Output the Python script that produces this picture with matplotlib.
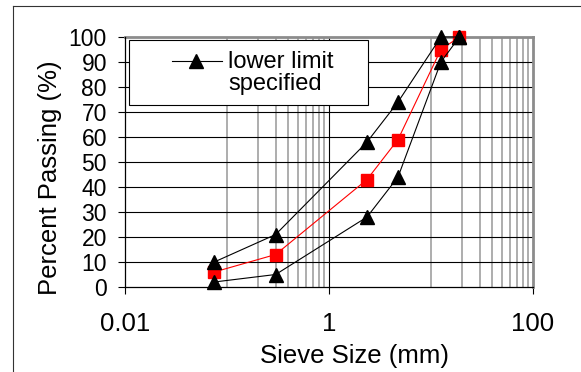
import numpy as np
from matplotlib import pyplot as plt
from matplotlib.patches import Rectangle
from matplotlib.lines import Line2D

plt.rcParams['font.family'] = ['Liberation Sans', 'DejaVu Sans']

sieve_mm = [0.075, 0.3, 2.36, 4.75, 12.5, 19]
upper_limit = [10, 21, 58, 74, 100, 100]
lower_limit = [2, 5, 28, 44, 90, 100]
measured = [6, 13, 43, 59, 95, 100]

yticks = list(range(0, 101, 10))
xticks = [0.01, 1, 100]
xticklabels = ['0.01', '1', '100']
legend_label = 'lower limit\nspecified'

W, H = 581, 372
fig = plt.figure(figsize=(W/100, H/100), dpi=100)

# outer chart border (only top and left are inside the image)
fig.add_artist(Line2D([13/W, 13/W], [0, 1-6/H], color='#333333', lw=0.8))
fig.add_artist(Line2D([13/W, 1], [1-6/H, 1-6/H], color='#333333', lw=0.8))

left, right, top, bottom = 125, 533, 37, 287
ax = fig.add_axes([left/W, 1-bottom/H, (right-left)/W, (bottom-top)/H])
ax.set_xscale('log')
ax.set_xlim(0.01, 100)
ax.set_ylim(0, 100)

for v in list(np.arange(1, 10)*0.1) + list(np.arange(1, 10)*10.0):
    ax.axvline(v, color='#a0a0a0', lw=1.2, zorder=1)
ax.axvline(1, color='black', lw=0.8, zorder=1.5)
for v in yticks[1:-1]:
    ax.axhline(v, color='black', lw=0.8, zorder=1.5)

ax.plot(sieve_mm, upper_limit, color='black', lw=0.8, marker='^', ms=10, zorder=7, clip_on=False)
ax.plot(sieve_mm, lower_limit, color='black', lw=0.8, marker='^', ms=10, zorder=7, clip_on=False)
ax.plot(sieve_mm, measured, color='#ff0000', lw=0.8, marker='s', ms=9, zorder=6.8, clip_on=False)

ax.set_yticks(yticks)
ax.set_xticks(xticks)
ax.set_xticklabels(xticklabels)
ax.xaxis.set_minor_locator(plt.NullLocator())
ax.tick_params(axis='both', length=5, width=0.8, color='black')
ax.tick_params(axis='y', pad=8, labelsize=16.5)
ax.tick_params(axis='x', pad=13, labelsize=18.5)

for s in ['top', 'right']:
    ax.spines[s].set_color('#8c8c8c')
    ax.spines[s].set_linewidth(2)
for s in ['left', 'bottom']:
    ax.spines[s].set_color('black')
    ax.spines[s].set_linewidth(0.9)
    ax.spines[s].set_zorder(4)

fig.text(50/W, 1-178/H, 'Percent Passing (%)', rotation=90, fontsize=18.5,
         ha='center', va='center')
fig.text(355/W, 1-356/H, 'Sieve Size (mm)', fontsize=18.5, ha='center', va='center')

# legend box
def ax_xy(px, py):
    return (px-left)/(right-left), (bottom-py)/(bottom-top)

x0, y0 = ax_xy(129, 105)
x1, y1 = ax_xy(368, 40)
ax.add_patch(Rectangle((x0, y0), x1-x0, y1-y0, transform=ax.transAxes,
                       facecolor='white', edgecolor='black', lw=0.8, zorder=5))
lx0, ly = ax_xy(172, 61)
lx1, _ = ax_xy(222, 61)
mx, _ = ax_xy(196, 61)
ax.add_line(Line2D([lx0, lx1], [ly, ly], transform=ax.transAxes, color='black',
                   lw=0.8, zorder=6))
ax.add_line(Line2D([mx], [ly], transform=ax.transAxes, color='black',
                   marker='^', ms=10, zorder=6))
tx, ty = ax_xy(228, 73)
ax.text(tx, ty, legend_label, transform=ax.transAxes, fontsize=17,
        ha='left', va='center', linespacing=1.05, zorder=6)

fig.savefig('out.png', dpi=100)
